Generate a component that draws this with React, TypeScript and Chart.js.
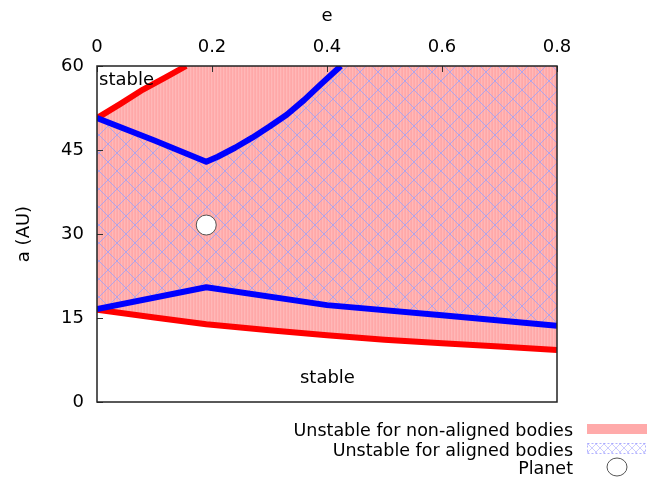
import React, { useEffect, useRef } from "react";
import { Chart, registerables } from "chart.js";

Chart.register(...registerables);

// Axis ticks
const eTicks = [0, 0.2, 0.4, 0.6, 0.8];
const aTicks = [0, 15, 30, 45, 60];

// Boundary curves (e, a)
const redUpperE = [0, 0.04, 0.08, 0.12, 0.155];
const redUpperA = [50.7, 53.2, 55.8, 58.0, 60];

const blueUpperE = [0, 0.1, 0.19, 0.21, 0.24, 0.27, 0.3, 0.33, 0.36, 0.39, 0.424];
const blueUpperA = [50.7, 46.7, 42.9, 43.8, 45.4, 47.2, 49.2, 51.3, 53.9, 56.8, 60];

const blueLowerE = [0, 0.19, 0.4, 0.6, 0.8];
const blueLowerA = [16.6, 20.5, 17.3, 15.5, 13.6];

const redLowerE = [0, 0.1, 0.19, 0.3, 0.4, 0.5, 0.6, 0.7, 0.8];
const redLowerA = [16.5, 15.1, 13.9, 12.8, 11.9, 11.1, 10.5, 9.9, 9.3];

// Planet
const planetE = [0.19];
const planetA = [31.6];

// Annotations
const stableLabels = ["stable", "stable"];
const stableE = [0.0035, 0.353];
const stableA = [56.6, 3.4];

const legendLabels = [
  "Unstable for non-aligned bodies",
  "Unstable for aligned bodies",
  "Planet",
];

const FONT = "'DejaVu Sans', sans-serif";

const pts = (xs: number[], ys: number[]) => xs.map((x, i) => ({ x, y: ys[i] }));

export default function App() {
  const ref = useRef<HTMLCanvasElement>(null);

  useEffect(() => {
    const canvas = ref.current!;
    const mainCtx = canvas.getContext("2d")!;
    const mkPattern = (w: number, h: number, draw: (g: CanvasRenderingContext2D) => void) => {
      const c = document.createElement("canvas");
      c.width = w;
      c.height = h;
      const g = c.getContext("2d")!;
      draw(g);
      return mainCtx.createPattern(c, "repeat")!;
    };
    const pinkPat = mkPattern(3, 1, (g) => {
      ["#ffa8a8", "#ffb8b8", "#ffadad"].forEach((col, i) => {
        g.fillStyle = col;
        g.fillRect(i, 0, 1, 1);
      });
    });
    const hatch = (size: number, color: string, lw: number) =>
      mkPattern(size, size, (g) => {
        g.strokeStyle = color;
        g.lineWidth = lw;
        g.beginPath();
        for (const o of [-size, 0, size]) {
          g.moveTo(o, 0);
          g.lineTo(o + size, size);
          g.moveTo(o + size, 0);
          g.lineTo(o, size);
        }
        g.stroke();
      });
    const hatchPat = hatch(18, "rgba(150,160,255,0.75)", 1);
    const hatchLegend = hatch(8, "rgba(170,170,255,0.6)", 1);

    const eMax = eTicks[eTicks.length - 1];
    const aMax = aTicks[aTicks.length - 1];

    const overlay = {
      id: "overlay",
      afterDraw(chart: any) {
        const { ctx, chartArea: ca, scales } = chart;
        const xs = scales.x;
        const ys = scales.y;
        ctx.save();
        // inward ticks
        ctx.strokeStyle = "#333";
        ctx.lineWidth = 1;
        ctx.beginPath();
        eTicks.forEach((v) => {
          const px = Math.round(xs.getPixelForValue(v)) + 0.5;
          ctx.moveTo(px, ca.top);
          ctx.lineTo(px, ca.top + 6);
        });
        aTicks.forEach((v) => {
          const py = Math.round(ys.getPixelForValue(v)) + 0.5;
          ctx.moveTo(ca.left, py);
          ctx.lineTo(ca.left + 6, py);
        });
        ctx.stroke();
        // frame
        ctx.strokeStyle = "#222";
        ctx.lineWidth = 1.5;
        ctx.strokeRect(ca.left, ca.top, ca.right - ca.left, ca.bottom - ca.top);

        // stable labels
        ctx.fillStyle = "#000";
        ctx.font = `18px ${FONT}`;
        ctx.textAlign = "left";
        ctx.textBaseline = "alphabetic";
        stableLabels.forEach((t, i) => {
          ctx.fillText(t, xs.getPixelForValue(stableE[i]), ys.getPixelForValue(stableA[i]));
        });

        // legend
        ctx.font = `17.5px ${FONT}`;
        ctx.textAlign = "right";
        const baselines = [436, 456, 474];
        legendLabels.forEach((t, i) => ctx.fillText(t, 573, baselines[i]));
        // sample 1
        ctx.fillStyle = "#ffaaaa";
        ctx.fillRect(587, 424, 60, 10);
        // sample 2
        ctx.fillStyle = hatchLegend;
        ctx.fillRect(587, 443, 58, 10);
        ctx.strokeStyle = "rgba(160,160,255,0.8)";
        ctx.lineWidth = 1;
        ctx.setLineDash([2, 2]);
        ctx.strokeRect(587.5, 443.5, 58, 10);
        ctx.setLineDash([]);
        // sample 3
        ctx.beginPath();
        ctx.ellipse(617, 467, 10, 9, 0, 0, Math.PI * 2);
        ctx.fillStyle = "#fff";
        ctx.fill();
        ctx.strokeStyle = "#555";
        ctx.stroke();
        ctx.restore();
      },
    };

    const lineBase = { pointRadius: 0, tension: 0, fill: false, borderJoinStyle: "round" };

    const chart = new Chart(canvas, {
      type: "line",
      data: {
        datasets: [
          {
            ...lineBase,
            data: pts([...redUpperE, eMax], [...redUpperA, aMax]),
            borderColor: "transparent",
            borderWidth: 0,
            order: 20,
          },
          {
            ...lineBase,
            data: pts(redLowerE, redLowerA),
            borderColor: "transparent",
            borderWidth: 0,
            fill: 0,
            backgroundColor: pinkPat,
            order: 19,
          },
          {
            ...lineBase,
            data: pts([...blueUpperE, eMax], [...blueUpperA, aMax]),
            borderColor: "transparent",
            borderWidth: 0,
            order: 18,
          },
          {
            ...lineBase,
            data: pts(blueLowerE, blueLowerA),
            borderColor: "transparent",
            borderWidth: 0,
            fill: 2,
            backgroundColor: hatchPat,
            order: 17,
          },
          { ...lineBase, data: pts(redLowerE, redLowerA), borderColor: "#ff0000", borderWidth: 6, order: 6 },
          { ...lineBase, data: pts(redUpperE, redUpperA), borderColor: "#ff0000", borderWidth: 6, order: 6 },
          { ...lineBase, data: pts(blueLowerE, blueLowerA), borderColor: "#0000ff", borderWidth: 6, order: 5 },
          { ...lineBase, data: pts(blueUpperE, blueUpperA), borderColor: "#0000ff", borderWidth: 6, order: 5 },
          {
            data: pts(planetE, planetA),
            showLine: false,
            pointRadius: 10,
            pointBackgroundColor: "#ffffff",
            pointBorderColor: "#555555",
            pointBorderWidth: 1,
            order: 1,
          },
        ] as any,
      },
      options: {
        animation: false,
        responsive: false,
        events: [],
        layout: { padding: { left: 0, top: 0, right: 90, bottom: 75 } },
        plugins: { legend: { display: false }, tooltip: { enabled: false } },
        scales: {
          x: {
            type: "linear",
            position: "top",
            min: 0,
            max: eMax,
            afterBuildTicks: (s: any) => {
              s.ticks = eTicks.map((v) => ({ value: v }));
            },
            afterFit: (s: any) => {
              s.height = 66;
            },
            grid: { display: false, drawTicks: false },
            border: { display: false },
            ticks: {
              padding: 8,
              color: "#000",
              font: { family: FONT, size: 18 },
              callback: (v: any) => String(v),
            },
            title: {
              display: true,
              text: "e",
              color: "#000",
              font: { family: FONT, size: 18 },
              padding: { top: 6, bottom: 0 },
            },
          },
          y: {
            type: "linear",
            min: 0,
            max: aMax,
            afterBuildTicks: (s: any) => {
              s.ticks = aTicks.map((v) => ({ value: v }));
            },
            afterFit: (s: any) => {
              s.width = 97;
            },
            grid: { display: false, drawTicks: false },
            border: { display: false },
            ticks: {
              padding: 13,
              color: "#000",
              font: { family: FONT, size: 18 },
              callback: (v: any) => String(v),
            },
            title: {
              display: true,
              text: "a (AU)",
              color: "#000",
              font: { family: FONT, size: 18 },
              padding: { top: 14, bottom: 0 },
            },
          },
        },
      } as any,
      plugins: [overlay],
    });
    return () => chart.destroy();
  }, []);

  return (
    <div style={{ position: "absolute", left: 0, top: 0, width: 647, height: 477 }}>
      <canvas ref={ref} width={647} height={477} style={{ display: "block" }} />
    </div>
  );
}
